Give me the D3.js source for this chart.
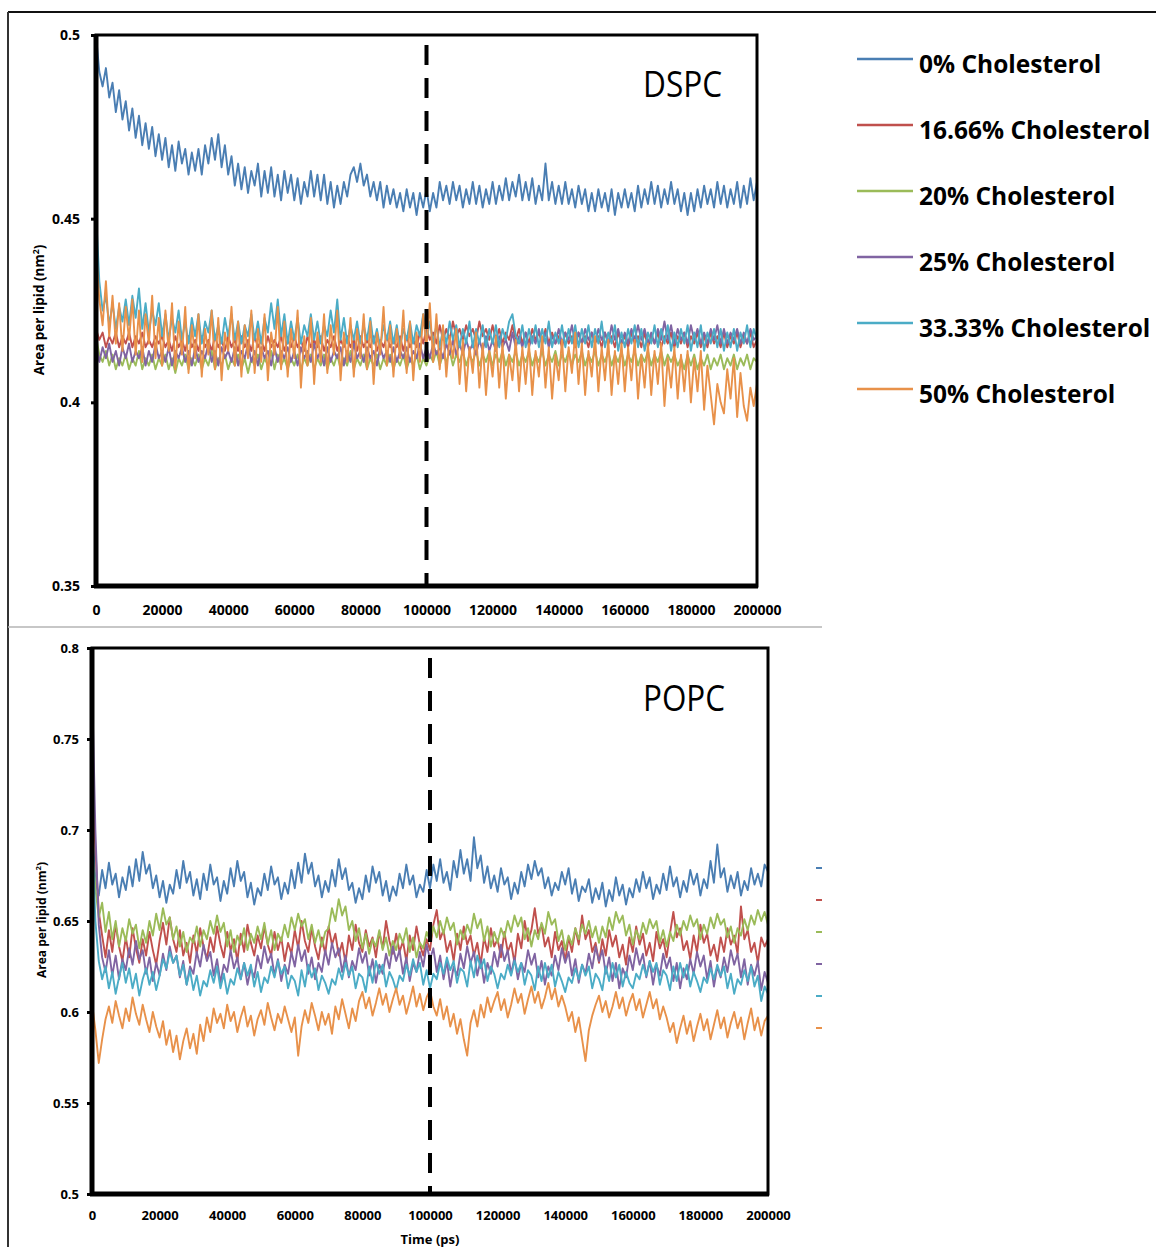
<!DOCTYPE html>
<html><head><meta charset="utf-8">
<script src="https://cdn.jsdelivr.net/npm/d3@7"></script>
<style>body{margin:0;background:#fff}svg{display:block}text{font-family:"Open Sans",sans-serif}</style>
</head><body>
<script>
const seriesNames=["0% Cholesterol","16.66% Cholesterol","20% Cholesterol","25% Cholesterol","33.33% Cholesterol","50% Cholesterol"];
const seriesColors=["#4a7eb3","#c0504d","#9bbb59","#8064a2","#4bacc6","#e8914a"];
const timeStep=1000; // ps between samples
const xTicks=[0,20000,40000,60000,80000,100000,120000,140000,160000,180000,200000];
const dspcYTicks=[0.35,0.4,0.45,0.5];
const popcYTicks=[0.5,0.55,0.6,0.65,0.7,0.75,0.8];
const equilibrationTime=100000;

// DSPC area per lipid (nm^2), one sample per 1000 ps
const dspc0=[.500,.490,.486,.491,.483,.487,.479,.485,.477,.482,
.474,.480,.472,.478,.470,.476,.469,.475,.467,.473,
.466,.472,.464,.470,.463,.471,.465,.469,.462,.468,
.463,.469,.462,.470,.465,.472,.466,.473,.464,.470,
.462,.467,.459,.465,.458,.464,.457,.463,.459,.465,
.456,.463,.457,.464,.456,.462,.455,.463,.457,.462,
.455,.461,.454,.460,.456,.463,.456,.462,.455,.462,
.454,.460,.453,.459,.454,.460,.456,.462,.464,.460,
.465,.459,.462,.456,.460,.455,.460,.453,.459,.454,
.458,.453,.457,.452,.458,.453,.457,.451,.457,.453,
.458,.452,.457,.453,.460,.455,.459,.454,.460,.455,
.459,.453,.458,.454,.460,.454,.459,.453,.458,.454,
.460,.454,.459,.455,.461,.455,.460,.456,.462,.455,
.460,.455,.461,.454,.459,.455,.465,.455,.460,.454,
.459,.454,.460,.454,.458,.453,.459,.454,.458,.452,
.457,.452,.458,.453,.457,.452,.458,.451,.457,.453,
.458,.453,.457,.452,.459,.453,.458,.454,.460,.454,
.459,.453,.458,.454,.460,.454,.458,.452,.457,.451,
.457,.452,.458,.453,.459,.454,.458,.453,.460,.454,
.459,.453,.458,.454,.460,.453,.459,.454,.461,.455,
.460];
const dspc1666=[.420,.417,.419,.415,.418,.416,.419,.415,.418,.416,
.419,.415,.418,.416,.419,.415,.417,.415,.418,.416,
.418,.415,.417,.414,.418,.415,.417,.414,.418,.415,
.417,.414,.418,.415,.417,.414,.418,.415,.417,.414,
.418,.415,.417,.414,.418,.415,.417,.414,.418,.415,
.417,.414,.418,.415,.417,.415,.418,.414,.417,.415,
.418,.415,.417,.414,.418,.415,.417,.415,.418,.414,
.417,.415,.418,.414,.417,.415,.418,.415,.417,.414,
.418,.415,.417,.415,.418,.414,.417,.415,.418,.415,
.417,.415,.418,.414,.418,.415,.417,.415,.419,.416,
.420,.417,.419,.416,.421,.417,.420,.417,.422,.418,
.420,.417,.421,.418,.420,.417,.422,.418,.420,.417,
.421,.417,.420,.416,.419,.417,.421,.417,.420,.416,
.419,.416,.420,.417,.419,.416,.420,.416,.419,.416,
.418,.415,.419,.416,.418,.415,.419,.416,.418,.415,
.419,.416,.418,.415,.419,.416,.418,.415,.419,.416,
.418,.415,.419,.416,.418,.415,.419,.415,.418,.416,
.419,.415,.418,.416,.419,.415,.418,.416,.419,.415,
.418,.416,.419,.415,.418,.415,.419,.416,.418,.415,
.419,.415,.418,.416,.419,.415,.418,.416,.419,.415,
.417];
const dspc20=[.418,.413,.411,.414,.410,.413,.409,.412,.410,.413,
.409,.412,.410,.414,.409,.412,.410,.413,.409,.412,
.410,.413,.409,.412,.408,.412,.410,.413,.409,.412,
.410,.413,.409,.412,.410,.414,.409,.412,.410,.413,
.409,.412,.410,.413,.409,.412,.408,.412,.410,.413,
.409,.412,.410,.414,.409,.413,.410,.412,.409,.412,
.410,.413,.409,.412,.410,.413,.409,.412,.410,.413,
.409,.412,.410,.413,.409,.412,.410,.414,.409,.412,
.410,.413,.409,.412,.410,.413,.409,.412,.410,.413,
.409,.412,.410,.413,.409,.412,.410,.413,.409,.412,
.410,.413,.411,.414,.410,.413,.411,.414,.410,.413,
.411,.414,.410,.413,.411,.414,.410,.413,.411,.414,
.410,.413,.411,.414,.410,.413,.411,.414,.410,.413,
.411,.414,.410,.413,.411,.414,.410,.413,.411,.414,
.410,.413,.411,.414,.410,.413,.411,.414,.410,.413,
.411,.414,.410,.413,.411,.414,.410,.413,.411,.414,
.410,.413,.411,.414,.410,.413,.411,.414,.410,.413,
.411,.414,.410,.413,.411,.413,.410,.412,.409,.413,
.410,.413,.409,.412,.410,.413,.409,.412,.410,.413,
.409,.412,.410,.413,.409,.412,.410,.413,.409,.412,
.411];
const dspc25=[.416,.411,.415,.412,.416,.411,.414,.410,.415,.412,
.416,.411,.414,.412,.415,.410,.414,.411,.416,.412,
.414,.411,.415,.410,.414,.412,.415,.411,.414,.410,
.415,.411,.414,.412,.416,.411,.414,.410,.415,.412,
.414,.411,.415,.410,.414,.412,.416,.411,.414,.410,
.415,.412,.414,.410,.415,.411,.414,.412,.415,.411,
.414,.410,.415,.412,.414,.411,.416,.412,.414,.410,
.415,.411,.414,.412,.415,.410,.414,.411,.416,.412,
.414,.411,.415,.412,.414,.410,.415,.412,.414,.411,
.415,.411,.414,.412,.415,.411,.414,.412,.416,.412,
.415,.412,.416,.413,.415,.412,.416,.413,.417,.413,
.416,.413,.417,.414,.416,.413,.417,.414,.418,.414,
.417,.414,.418,.415,.417,.414,.419,.415,.418,.415,
.419,.415,.418,.416,.420,.416,.419,.415,.418,.416,
.420,.416,.419,.417,.421,.416,.419,.416,.420,.417,
.419,.416,.420,.417,.419,.416,.421,.417,.420,.416,
.419,.416,.420,.417,.421,.417,.420,.416,.419,.416,
.420,.417,.422,.417,.421,.416,.420,.417,.419,.416,
.421,.417,.420,.416,.419,.416,.420,.417,.421,.416,
.420,.416,.419,.417,.420,.416,.419,.416,.420,.417,
.418];
const dspc3333=[.452,.433,.425,.429,.421,.427,.420,.426,.422,.428,
.421,.429,.423,.431,.420,.427,.419,.425,.421,.427,
.418,.424,.417,.423,.419,.425,.417,.422,.416,.423,
.418,.424,.416,.422,.419,.425,.417,.421,.416,.423,
.418,.424,.417,.422,.416,.421,.418,.424,.417,.422,
.416,.423,.419,.427,.420,.428,.418,.424,.416,.422,
.417,.423,.416,.421,.418,.424,.417,.422,.416,.421,
.418,.425,.419,.428,.417,.423,.416,.421,.417,.422,
.416,.421,.417,.423,.416,.420,.415,.421,.417,.422,
.416,.421,.415,.420,.417,.422,.416,.421,.418,.424,
.417,.422,.416,.421,.415,.420,.416,.422,.417,.421,
.415,.420,.416,.422,.415,.420,.416,.421,.415,.420,
.416,.421,.415,.420,.417,.422,.424,.418,.416,.421,
.415,.420,.416,.421,.415,.420,.416,.422,.415,.419,
.416,.421,.415,.420,.416,.421,.415,.420,.416,.421,
.415,.420,.416,.422,.415,.419,.416,.421,.414,.419,
.415,.420,.416,.421,.415,.420,.414,.419,.416,.421,
.415,.420,.416,.421,.414,.419,.415,.420,.416,.421,
.414,.419,.415,.421,.414,.419,.416,.420,.415,.420,
.414,.419,.415,.420,.414,.419,.416,.421,.415,.420,
.417];
const dspc50=[.442,.428,.421,.433,.418,.429,.416,.427,.414,.426,
.417,.428,.413,.425,.411,.424,.416,.429,.412,.423,
.410,.425,.414,.427,.409,.422,.413,.426,.408,.421,
.412,.424,.407,.420,.413,.425,.409,.423,.406,.419,
.414,.426,.410,.422,.407,.421,.412,.425,.408,.420,
.411,.424,.406,.419,.413,.426,.409,.422,.407,.420,
.412,.425,.404,.418,.410,.423,.405,.419,.411,.424,
.408,.421,.413,.425,.406,.419,.411,.423,.407,.420,
.412,.424,.409,.422,.405,.419,.413,.426,.410,.421,
.407,.420,.412,.425,.408,.422,.406,.419,.411,.424,
.415,.427,.411,.424,.409,.421,.407,.418,.412,.420,
.405,.417,.403,.415,.408,.419,.404,.416,.402,.414,
.407,.418,.404,.416,.401,.413,.406,.417,.403,.415,
.405,.416,.402,.414,.407,.418,.404,.415,.401,.413,
.406,.417,.403,.415,.408,.419,.405,.416,.402,.414,
.407,.418,.403,.415,.406,.417,.402,.414,.405,.416,
.403,.415,.406,.417,.401,.413,.404,.416,.402,.414,
.405,.416,.399,.412,.404,.415,.401,.413,.403,.414,
.400,.412,.403,.414,.398,.410,.402,.394,.405,.400,
.397,.409,.401,.412,.396,.408,.399,.395,.404,.399,
.405];

// POPC area per lipid (nm^2), one sample per 1000 ps
const popc0=[.705,.672,.664,.678,.668,.682,.670,.676,.663,.674,
.667,.680,.669,.684,.672,.688,.676,.681,.668,.675,
.663,.672,.660,.670,.665,.678,.668,.683,.671,.677,
.664,.673,.662,.676,.667,.681,.670,.674,.661,.672,
.665,.679,.669,.683,.672,.677,.663,.671,.659,.668,
.664,.676,.667,.680,.670,.674,.662,.671,.665,.678,
.668,.682,.671,.687,.676,.682,.669,.675,.663,.672,
.666,.678,.669,.684,.673,.679,.667,.671,.660,.668,
.662,.675,.666,.680,.671,.677,.664,.672,.661,.669,
.664,.676,.668,.681,.670,.675,.663,.670,.666,.678,
.668,.681,.672,.684,.671,.677,.667,.683,.674,.689,
.676,.684,.672,.696,.679,.686,.671,.680,.668,.675,
.666,.679,.670,.674,.662,.671,.665,.677,.669,.681,
.673,.683,.675,.679,.668,.674,.664,.671,.667,.677,
.670,.679,.665,.673,.661,.669,.666,.673,.660,.668,
.662,.671,.658,.667,.661,.674,.664,.670,.659,.668,
.663,.673,.666,.677,.668,.674,.662,.670,.665,.676,
.667,.680,.669,.674,.663,.672,.666,.678,.670,.676,
.664,.673,.668,.683,.671,.692,.674,.679,.666,.675,
.668,.677,.664,.672,.667,.679,.670,.676,.669,.681,
.677];
const popc1666=[.727,.690,.655,.642,.630,.645,.633,.648,.636,.628,
.641,.630,.646,.635,.627,.640,.631,.644,.634,.626,
.639,.649,.637,.652,.640,.633,.645,.631,.638,.627,
.642,.632,.646,.636,.629,.641,.633,.647,.637,.630,
.644,.634,.640,.628,.643,.633,.648,.638,.631,.642,
.635,.647,.637,.631,.644,.634,.641,.628,.638,.632,
.645,.635,.650,.639,.633,.646,.636,.629,.641,.632,
.647,.637,.643,.631,.638,.627,.642,.634,.648,.638,
.633,.645,.636,.641,.630,.644,.635,.650,.639,.632,
.643,.633,.639,.628,.642,.634,.647,.637,.631,.640,
.634,.648,.656,.640,.645,.633,.639,.628,.643,.634,
.647,.637,.642,.631,.638,.626,.641,.633,.646,.636,
.640,.630,.644,.633,.638,.627,.643,.635,.650,.639,
.645,.657,.643,.648,.636,.641,.630,.644,.634,.639,
.628,.641,.633,.646,.637,.653,.640,.645,.633,.638,
.627,.640,.631,.645,.636,.642,.630,.637,.626,.641,
.633,.647,.637,.643,.631,.638,.628,.644,.635,.640,
.630,.643,.655,.641,.646,.634,.639,.629,.642,.633,
.648,.638,.643,.631,.637,.628,.641,.633,.646,.637,
.642,.632,.658,.640,.645,.633,.638,.627,.641,.636,
.640];
const popc20=[.690,.668,.652,.660,.644,.655,.640,.650,.636,.646,
.639,.651,.643,.648,.635,.645,.638,.650,.642,.654,
.645,.657,.648,.652,.640,.647,.636,.644,.633,.641,
.638,.647,.636,.645,.640,.650,.643,.653,.644,.649,
.636,.645,.633,.642,.637,.646,.634,.643,.638,.647,
.640,.649,.637,.645,.634,.643,.639,.648,.641,.652,
.645,.654,.647,.651,.640,.648,.638,.645,.636,.644,
.646,.657,.650,.662,.653,.658,.645,.650,.639,.646,
.635,.643,.632,.640,.636,.645,.634,.641,.631,.639,
.634,.643,.638,.646,.633,.641,.630,.638,.635,.644,
.639,.647,.641,.650,.643,.652,.645,.649,.637,.645,
.640,.648,.643,.654,.646,.651,.639,.647,.636,.644,
.638,.646,.641,.650,.644,.653,.647,.652,.640,.646,
.636,.645,.640,.649,.643,.655,.648,.651,.639,.645,
.634,.642,.637,.646,.640,.648,.643,.650,.641,.647,
.638,.647,.641,.652,.645,.655,.649,.653,.642,.648,
.637,.645,.640,.649,.643,.651,.646,.650,.638,.645,
.636,.644,.639,.648,.642,.650,.645,.653,.647,.651,
.640,.648,.643,.652,.646,.654,.648,.651,.641,.647,
.638,.646,.642,.651,.645,.653,.648,.656,.650,.655,
.648];
const popc25=[.782,.700,.648,.630,.622,.634,.620,.631,.618,.629,
.623,.635,.626,.639,.629,.634,.621,.630,.617,.627,
.620,.632,.623,.636,.627,.631,.619,.628,.615,.625,
.621,.633,.625,.637,.628,.633,.620,.629,.616,.626,
.622,.634,.624,.630,.618,.627,.615,.624,.619,.631,
.624,.636,.627,.632,.620,.629,.617,.626,.621,.633,
.625,.637,.628,.634,.621,.630,.618,.627,.622,.634,
.626,.638,.630,.635,.622,.631,.619,.628,.623,.635,
.627,.633,.620,.629,.616,.626,.621,.632,.624,.636,
.628,.634,.621,.630,.617,.627,.622,.633,.625,.637,
.629,.635,.622,.631,.618,.628,.614,.625,.620,.632,
.624,.636,.627,.633,.620,.629,.616,.627,.621,.633,
.625,.637,.628,.634,.621,.630,.618,.627,.622,.634,
.626,.632,.619,.628,.615,.625,.620,.631,.623,.635,
.627,.633,.620,.629,.616,.626,.621,.632,.624,.636,
.628,.634,.621,.630,.617,.627,.613,.624,.619,.631,
.623,.635,.626,.632,.619,.628,.615,.626,.620,.632,
.624,.630,.617,.627,.613,.624,.618,.629,.621,.633,
.625,.631,.618,.628,.614,.625,.619,.630,.622,.634,
.626,.632,.619,.629,.615,.626,.620,.628,.612,.622,
.616];
const popc3333=[.704,.650,.628,.618,.625,.613,.622,.610,.619,.627,
.616,.624,.613,.621,.609,.618,.624,.615,.622,.612,
.620,.629,.624,.633,.627,.631,.620,.626,.615,.623,
.612,.620,.609,.617,.614,.623,.616,.625,.613,.621,
.610,.618,.615,.624,.618,.627,.620,.626,.614,.622,
.611,.619,.616,.625,.619,.628,.621,.625,.613,.620,
.617,.609,.623,.614,.626,.619,.624,.612,.620,.616,
.610,.618,.615,.624,.618,.627,.620,.625,.613,.621,
.619,.611,.625,.616,.628,.621,.626,.614,.622,.618,
.612,.620,.617,.626,.620,.629,.622,.627,.615,.623,
.613,.621,.618,.627,.621,.630,.623,.628,.616,.624,
.622,.614,.628,.619,.631,.624,.629,.617,.625,.621,
.613,.621,.618,.626,.620,.628,.622,.627,.615,.623,
.620,.612,.625,.617,.627,.619,.626,.614,.622,.617,
.611,.619,.616,.624,.618,.626,.620,.625,.613,.621,
.618,.612,.625,.617,.627,.619,.626,.614,.622,.616,
.613,.621,.618,.626,.620,.628,.622,.627,.615,.623,
.620,.612,.625,.617,.627,.619,.626,.614,.622,.617,
.611,.619,.616,.624,.618,.626,.620,.625,.613,.621,
.610,.618,.615,.623,.617,.625,.614,.620,.606,.614,
.610];
const popc50=[.605,.590,.572,.585,.596,.603,.594,.606,.598,.591,
.602,.595,.608,.599,.593,.604,.596,.589,.600,.592,
.586,.595,.582,.590,.578,.587,.574,.584,.591,.580,
.588,.577,.593,.584,.597,.589,.602,.594,.599,.591,
.604,.595,.600,.589,.597,.603,.592,.598,.587,.596,
.601,.593,.605,.597,.590,.599,.594,.603,.596,.589,
.597,.576,.592,.601,.594,.605,.598,.590,.600,.593,
.599,.588,.603,.596,.607,.599,.591,.602,.595,.606,
.611,.602,.608,.598,.605,.613,.604,.610,.600,.607,
.613,.604,.609,.599,.606,.614,.603,.610,.601,.608,
.612,.603,.598,.607,.596,.603,.592,.599,.588,.596,
.585,.576,.594,.601,.592,.604,.597,.608,.600,.606,
.611,.601,.607,.597,.604,.613,.605,.610,.599,.607,
.614,.605,.611,.602,.608,.616,.607,.613,.603,.609,
.603,.595,.600,.589,.597,.585,.573,.590,.598,.604,
.609,.600,.606,.597,.603,.611,.602,.608,.598,.605,
.610,.601,.607,.597,.604,.611,.602,.607,.596,.603,
.597,.589,.594,.583,.591,.598,.588,.595,.584,.592,
.599,.590,.596,.585,.593,.601,.591,.597,.586,.594,
.600,.591,.597,.585,.594,.602,.590,.597,.587,.595,
.598];

const dspcSeries=[dspc0,dspc1666,dspc20,dspc25,dspc3333,dspc50];
const popcSeries=[popc0,popc1666,popc20,popc25,popc3333,popc50];

const W=1156,H=1247;
const svg=d3.select("body").append("svg").attr("width",W).attr("height",H);
svg.append("rect").attr("width",W).attr("height",H).attr("fill","#fff");

// outer frame
svg.append("line").attr("x1",8).attr("x2",W).attr("y1",12).attr("y2",12).attr("stroke","#111").attr("stroke-width",2);
svg.append("line").attr("x1",8).attr("x2",8).attr("y1",12).attr("y2",H).attr("stroke","#333").attr("stroke-width",2);
svg.append("line").attr("x1",8).attr("x2",822).attr("y1",627).attr("y2",627).attr("stroke","#b5b5b5").attr("stroke-width",1.5);

function drawPanel(c){
  const x=d3.scaleLinear().domain([0,200000]).range([c.left,c.right]);
  const y=d3.scaleLinear().domain(c.yDomain).range([c.bottom,c.top]);
  const g=svg.append("g");
  g.append("clipPath").attr("id",c.id).append("rect")
    .attr("x",c.left).attr("y",c.top-2).attr("width",c.right-c.left).attr("height",c.bottom-c.top+2);
  const line=d3.line().x((d,i)=>x(i*timeStep)).y(d=>y(d));
  c.data.forEach((vals,i)=>{
    g.append("path").datum(vals).attr("d",line).attr("fill","none")
      .attr("stroke",seriesColors[i]).attr("stroke-width",1.9).attr("stroke-linejoin","round")
      .attr("clip-path",`url(#${c.id})`);
  });
  // equilibration dashed line
  g.append("line").attr("x1",x(equilibrationTime)).attr("x2",x(equilibrationTime))
    .attr("y1",c.dashTop).attr("y2",c.bottom).attr("stroke","#000").attr("stroke-width",4)
    .attr("stroke-dasharray","20,13");
  // frame
  g.append("rect").attr("x",c.left).attr("y",c.top).attr("width",c.right-c.left).attr("height",c.bottom-c.top)
    .attr("fill","none").attr("stroke","#000").attr("stroke-width",3);
  g.append("line").attr("x1",c.left).attr("x2",c.left).attr("y1",c.top-1).attr("y2",c.bottom+2).attr("stroke","#000").attr("stroke-width",5);
  g.append("line").attr("x1",c.left-2).attr("x2",c.right+1).attr("y1",c.bottom).attr("y2",c.bottom).attr("stroke","#000").attr("stroke-width",c.bottomW);
  // y axis
  const ya=g.append("g").attr("transform",`translate(${c.left},0)`)
    .call(d3.axisLeft(y).tickValues(c.yTicks).tickSize(5).tickPadding(c.yPad).tickFormat(d=>String(d)));
  ya.select(".domain").remove();
  ya.selectAll(".tick line").attr("stroke","#000").attr("stroke-width",3);
  ya.selectAll("text").attr("font-family","'Open Sans',sans-serif").attr("font-weight","bold").attr("font-size",c.tickFont).attr("fill","#000");
  // x axis
  const xa=g.append("g").attr("transform",`translate(0,${c.bottom})`)
    .call(d3.axisBottom(x).tickValues(xTicks).tickSize(0).tickPadding(c.xPad).tickFormat(d=>String(d)));
  xa.select(".domain").remove();
  xa.selectAll("text").attr("font-family","'Open Sans',sans-serif").attr("font-weight","bold").attr("font-size",c.tickFont).attr("fill","#000");
  // y title
  const yt=g.append("text").attr("transform",`translate(${c.yTitleX},${c.yTitleY}) rotate(-90)`)
    .attr("text-anchor","middle").attr("font-weight","bold").attr("font-size",c.yTitleSize).attr("fill","#000");
  yt.append("tspan").text("Area per lipid (nm");
  yt.append("tspan").attr("dy",-5).attr("font-size",c.yTitleSize*0.65).text("2");
  yt.append("tspan").attr("dy",5).text(")");
  // panel title
  g.append("text").attr("x",643).attr("y",c.titleY).attr("font-size",37).attr("fill","#000")
    .attr("textLength",c.titleLen).attr("lengthAdjust","spacingAndGlyphs").text(c.title);
  return {x,y};
}

drawPanel({id:"clipD",left:96,right:757,top:35,bottom:586,yDomain:[0.35,0.5],yTicks:dspcYTicks,
  data:dspcSeries,dashTop:45,bottomW:5,yPad:11,xPad:19,tickFont:14,yTitleX:44,yTitleY:310,yTitleSize:13.5,
  title:"DSPC",titleY:97,titleLen:79});
drawPanel({id:"clipP",left:92,right:768,top:648,bottom:1194,yDomain:[0.5,0.8],yTicks:popcYTicks,
  data:popcSeries,dashTop:658,bottomW:5,yPad:8,xPad:17,tickFont:13,yTitleX:46,yTitleY:920,yTitleSize:12,
  title:"POPC",titleY:711,titleLen:82});

svg.append("text").attr("x",430).attr("y",1244).attr("text-anchor","middle").attr("font-weight","bold")
  .attr("font-size",13).attr("fill","#000").text("Time (ps)");

// legend (top)
const leg=svg.append("g");
seriesNames.forEach((n,i)=>{
  const ly=59+i*66;
  leg.append("line").attr("x1",857).attr("x2",913).attr("y1",ly).attr("y2",ly).attr("stroke",seriesColors[i]).attr("stroke-width",2.5);
  leg.append("text").attr("x",919).attr("y",ly+14).attr("font-weight","bold").attr("font-size",24.5).attr("fill","#000").text(n);
});
// legend keys only (bottom panel)
seriesColors.forEach((col,i)=>{
  const ly=868+i*32;
  svg.append("line").attr("x1",816).attr("x2",822).attr("y1",ly).attr("y2",ly).attr("stroke",col).attr("stroke-width",2);
});
</script>
</body></html>
